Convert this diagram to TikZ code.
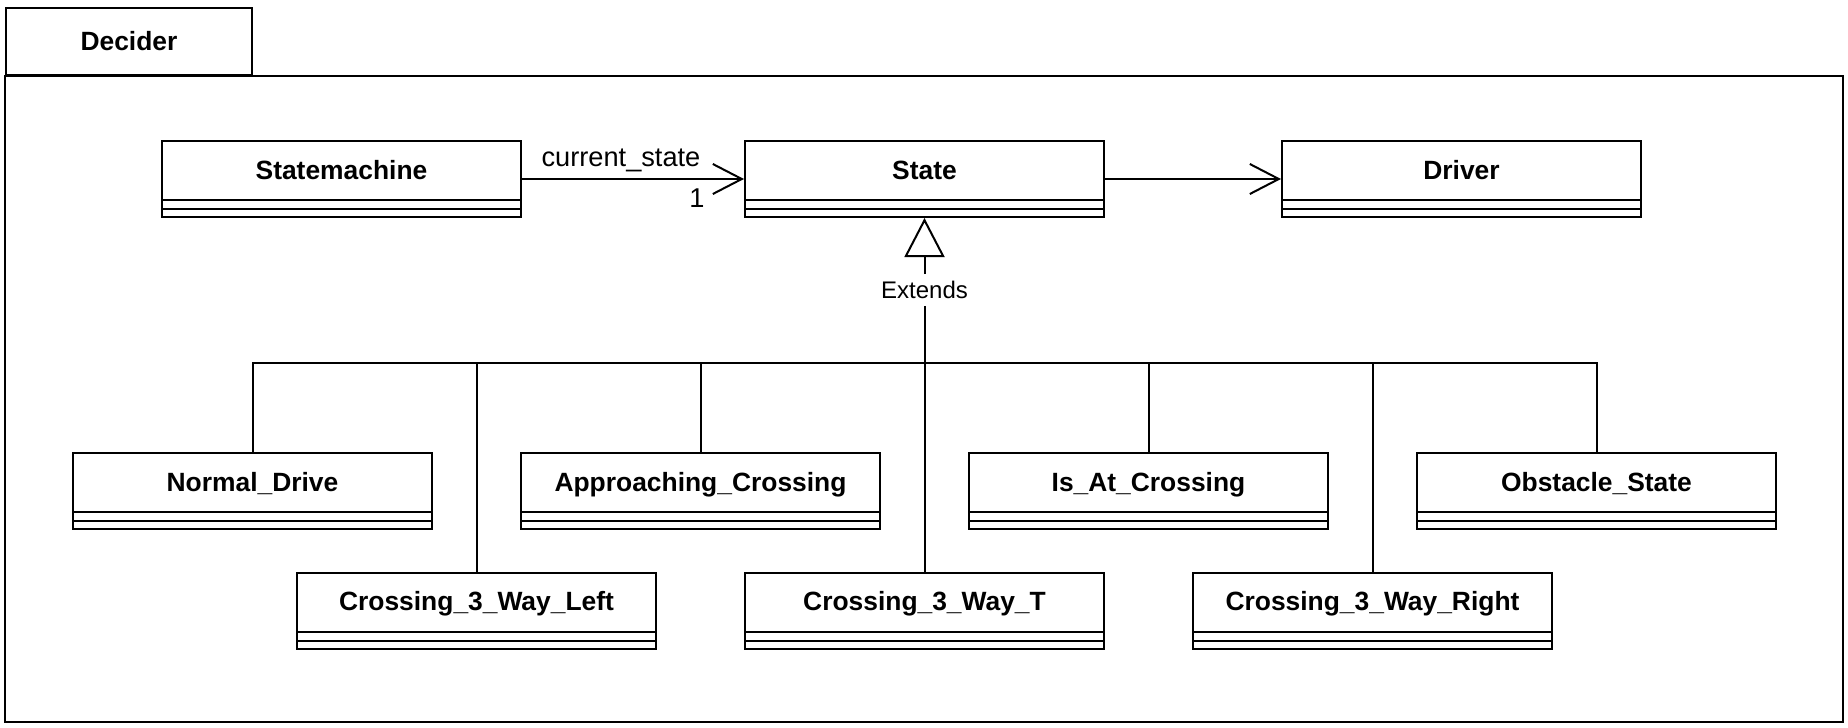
\documentclass[tikz,border=0pt]{standalone}
\usepackage{fontspec}
\setmainfont{Liberation Sans}
\usetikzlibrary{arrows.meta,calc}
\begin{document}
\begin{tikzpicture}[x=0.5pt,y=-0.5pt,line width=1pt,
  umlclass/.style={draw,rectangle,minimum width=179.5pt,minimum height=38pt,
    inner sep=0pt,text height=0pt,text depth=0pt,
    font=\fontsize{13.2pt}{15pt}\selectfont\bfseries},
  lbl/.style={inner sep=0pt,font=\fontsize{13.6pt}{15pt}\selectfont},
  assoc/.style={-{Straight Barb[length=14.5pt,width=15pt]}},
  gen/.style={-{Triangle[open,length=19.5pt,width=20pt]}}]
\fill[white] (0,0) rectangle (1848,728);
\useasboundingbox (0,0) rectangle (1848,728);
% package frame
\node[draw,minimum width=123pt,minimum height=33.5pt,inner sep=0pt,
  font=\fontsize{13.2pt}{15pt}\selectfont\bfseries] (tab) at (129,41.5) {Decider};
\draw (tab.south west) rectangle (1843,722);
% classes
\node[umlclass] (SM) at (341.5,179) {Statemachine};
\node[umlclass] (ST) at (924.5,179) {State};
\node[umlclass] (DR) at (1461.5,179) {Driver};
\node[umlclass] (ND) at (252.5,491) {Normal\_Drive};
\node[umlclass] (AC) at (700.5,491) {Approaching\_Crossing};
\node[umlclass] (IA) at (1148.5,491) {Is\_At\_Crossing};
\node[umlclass] (OS) at (1596.5,491) {Obstacle\_State};
\node[umlclass] (CL) at (476.5,610.5) {Crossing\_3\_Way\_Left};
\node[umlclass] (CT) at (924.5,610.5) {Crossing\_3\_Way\_T};
\node[umlclass] (CR) at (1372.5,610.5) {Crossing\_3\_Way\_Right};
\foreach \n in {SM,ST,DR,ND,AC,IA,OS,CL,CT,CR}{
  \draw ($(\n.south west)+(0,-9)$) -- ($(\n.south east)+(0,-9)$);
  \draw ($(\n.south west)+(0,-18)$) -- ($(\n.south east)+(0,-18)$);
}
% associations
\draw[assoc] (SM.east) -- (ST.west);
\node[lbl,anchor=base] (cs) at (621,166) {current\_state};
\node[lbl,anchor=base] (one) at (697,207) {1};
\draw[assoc] (ST.east) -- (DR.west);
% generalization
\node[inner sep=3pt,font=\fontsize{12pt}{14pt}\selectfont] (EX) at (924.5,290) {Extends};
\draw[gen] (EX.north) -- (ST.south);
\coordinate (bus) at (924.5,363);
\draw (EX.south) -- (bus);
\foreach \n in {ND,AC,IA,OS,CL,CT,CR}{
  \draw (\n.north) |- (bus);
}
\end{tikzpicture}
\end{document}
